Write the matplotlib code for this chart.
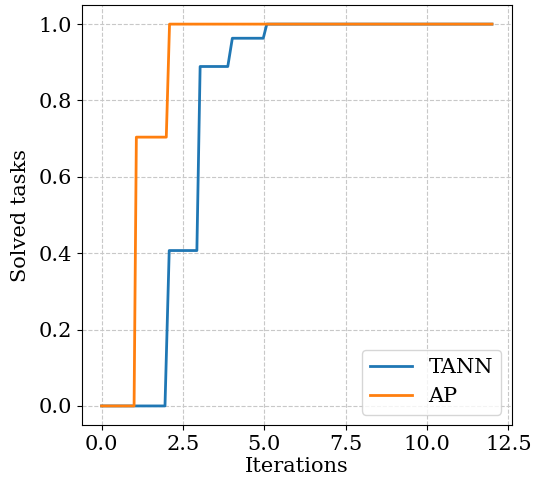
import matplotlib
matplotlib.use("Agg")
import matplotlib.pyplot as plt

tann_x = [0.0, 1.95, 2.08, 2.93, 3.03, 3.88, 4.02, 4.97, 5.08, 12.0]
tann_y = [0.0, 0.0, 0.407, 0.407, 0.889, 0.889, 0.963, 0.963, 1.0, 1.0]
ap_x = [0.0, 1.0, 1.07, 1.99, 2.09, 12.0]
ap_y = [0.0, 0.0, 0.704, 0.704, 1.0, 1.0]

plt.rcParams['font.family'] = 'DejaVu Serif'
fig = plt.figure(figsize=(5.41, 4.83), dpi=100)
ax = fig.add_axes([0.1516, 0.120, 0.7939, 0.8696])
ax.plot(tann_x, tann_y, color='tab:blue', lw=2, label='TANN')
ax.plot(ap_x, ap_y, color='tab:orange', lw=2, label='AP')
ax.grid(True, linestyle='--', color='#c8c8c8', lw=0.8)
ax.set_xlabel('Iterations', fontsize=15, labelpad=2)
ax.set_ylabel('Solved tasks', fontsize=15, labelpad=6)
ax.tick_params(labelsize=15)
ax.set_xticks([0, 2.5, 5, 7.5, 10, 12.5])
ax.set_xlim(-0.6, 12.6)
ax.set_ylim(-0.05, 1.05)
ax.legend(loc='lower right', fontsize=15)
fig.savefig('out.png', dpi=100)
